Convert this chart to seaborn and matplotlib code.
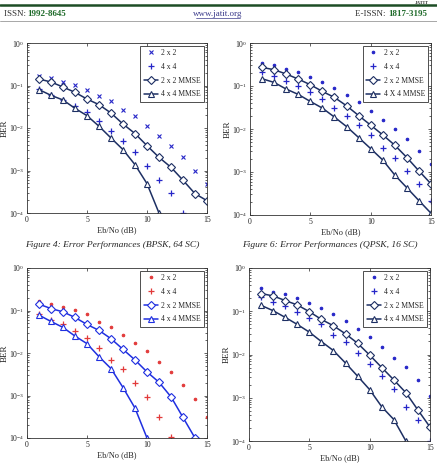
import numpy as np
import matplotlib
matplotlib.use("Agg")
import matplotlib.pyplot as plt
import matplotlib.ticker as mticker
import seaborn as sns

# ---- data (BER vs Eb/No) ----
ebno = list(range(1, 16))

# top-left panel (Figure 4: BPSK, 64 SC)
tl_2x2 = [0.17, 0.148, 0.123, 0.103, 0.080, 0.0566, 0.0432, 0.027, 0.0195, 0.0113,
          0.0066, 0.00384, 0.0021, 9.9e-4, 4.8e-4]
tl_4x4 = [0.083, 0.0587, 0.045, 0.0335, 0.0242, 0.0143, 0.00865, 0.00503, 0.00267,
          0.0013, 5.9e-4, 2.95e-4, 1.0e-4]
tl_2x2_mmse = [0.142, 0.121, 0.092, 0.069, 0.048, 0.0354, 0.0225, 0.0124, 0.0074,
               0.00384, 0.00204, 0.00119, 5.9e-4, 2.85e-4, 1.95e-4]
tl_4x4_mmse = [0.080, 0.0587, 0.0456, 0.029, 0.0195, 0.011, 0.00582, 0.0031, 0.00137,
               4.9e-4, 1.0e-4]

# top-right panel (Figure 6: QPSK, 16 SC)
tr_2x2 = [0.342, 0.307, 0.252, 0.207, 0.164, 0.126, 0.091, 0.0615, 0.0414, 0.0265,
          0.0164, 0.0101, 0.0058, 0.0031, 0.0015]
tr_4x4 = [0.215, 0.17, 0.132, 0.101, 0.0709, 0.0505, 0.030, 0.0206, 0.0125, 0.0073,
          0.0037, 0.00217, 0.00106, 5.2e-4, 2.1e-4]
tr_2x2_mmse = [0.271, 0.239, 0.19, 0.145, 0.107, 0.0748, 0.0542, 0.0347, 0.0206,
               0.0123, 0.0073, 0.0042, 0.00217, 0.00106, 5.3e-4]
tr_4x4_mmse = [0.1476, 0.121, 0.0848, 0.0637, 0.0437, 0.0306, 0.0189, 0.0114, 0.00634,
               0.0035, 0.0019, 8.5e-4, 4.3e-4, 2.16e-4, 1.1e-4]

# bottom-left panel
bl_2x2 = [0.169, 0.143, 0.124, 0.104, 0.0806, 0.0543, 0.040, 0.0264, 0.0175, 0.0109,
          0.00615, 0.00365, 0.00178, 8.35e-4, 3.05e-4]
bl_4x4 = [0.0806, 0.0593, 0.047, 0.0334, 0.0229, 0.0129, 0.007, 0.0041, 0.00198,
          9.3e-4, 3.05e-4, 1.04e-4]
bl_2x2_mmse = [0.141, 0.111, 0.093, 0.0685, 0.047, 0.034, 0.0217, 0.0122, 0.00686,
               0.00359, 0.00205, 9.3e-4, 3.05e-4, 1.0e-4]
bl_4x4_mmse = [0.0778, 0.0552, 0.040, 0.025, 0.0166, 0.0082, 0.0043, 0.00154,
               5.05e-4, 1.0e-4]

# bottom-right panel
br_2x2 = [0.336, 0.286, 0.248, 0.20, 0.158, 0.121, 0.0879, 0.0582, 0.0386, 0.0251,
          0.0152, 0.00844, 0.00512, 0.00255, 0.00112]
br_4x4 = [0.211, 0.167, 0.132, 0.096, 0.0696, 0.0505, 0.029, 0.0196, 0.0108, 0.0061,
          0.0031, 0.00163, 6.2e-4, 3.14e-4, 1.02e-4]
br_2x2_mmse = [0.257, 0.226, 0.177, 0.14, 0.0978, 0.0648, 0.0461, 0.030, 0.0182,
               0.0097, 0.005, 0.00259, 0.00131, 5.2e-4, 2.1e-4]
br_4x4_mmse = [0.137, 0.103, 0.0722, 0.0496, 0.0329, 0.0199, 0.0123, 0.00634,
               0.00316, 0.00154, 6.2e-4, 3.14e-4, 1.0e-4]

legend_labels = ["2 x 2", "4 x 4", "2 x 2 MMSE", "4 x 4 MMSE"]
legend_labels_tr = ["2 x 2", "4 x 4", "2 x 2 MMSE", "4 X 4 MMSE"]

sns.set_style("ticks")
plt.rcParams["font.family"] = ["Liberation Serif", "DejaVu Serif"]
plt.rcParams["mathtext.fontset"] = "stix"

W, H = 437, 470
fig = plt.figure(figsize=(W / 100, H / 100), dpi=100)
fig.patch.set_facecolor("white")


def px_axes(left, top, right, bottom):
    return fig.add_axes([left / W, 1 - bottom / H, (right - left) / W, (bottom - top) / H])


def draw_panel(ax, y22, y44, y22m, y44m, pt_color, line_color, m22, labels):
    ms22 = 3.2 if m22 == "x" else 3.6
    sns.lineplot(x=ebno[:len(y22)], y=y22, ax=ax, color=pt_color, linestyle="",
                 marker=m22, markersize=ms22, markeredgewidth=0.8,
                 markeredgecolor=pt_color, markerfacecolor=pt_color, label=labels[0])
    sns.lineplot(x=ebno[:len(y44)], y=y44, ax=ax, color=pt_color, linestyle="",
                 marker="+", markersize=4.5, markeredgewidth=0.9,
                 markeredgecolor=pt_color, label=labels[1])
    sns.lineplot(x=ebno[:len(y22m)], y=y22m, ax=ax, color=line_color, linewidth=1.1,
                 marker="D", markersize=3.6, markerfacecolor="white",
                 markeredgecolor=line_color, markeredgewidth=0.8, label=labels[2])
    sns.lineplot(x=ebno[:len(y44m)], y=y44m, ax=ax, color=line_color, linewidth=1.1,
                 marker="^", markersize=4.0, markerfacecolor="white",
                 markeredgecolor=line_color, markeredgewidth=0.8, label=labels[3])

    ax.set_yscale("log")
    ax.set_xlim(0, 15)
    ax.set_ylim(1e-4, 1e0)
    ax.set_xticks([0, 5, 10, 15])
    ax.set_yticks([1e-4, 1e-3, 1e-2, 1e-1, 1e0])
    ax.yaxis.set_major_formatter(mticker.LogFormatterSciNotation())
    ax.yaxis.set_minor_locator(mticker.LogLocator(base=10, subs=np.arange(2, 10) * 1.0))
    ax.yaxis.set_minor_formatter(mticker.NullFormatter())
    ax.tick_params(which="both", direction="in", top=True, right=True,
                   labelsize=5.6, width=0.5, pad=2)
    ax.tick_params(which="major", length=2.5)
    ax.tick_params(which="minor", length=1.3)
    for s in ax.spines.values():
        s.set_linewidth(0.6)
        s.set_color("#333333")
    ax.set_xlabel("Eb/No (dB)", fontsize=6, labelpad=2)
    ax.set_ylabel("BER", fontsize=6.5)
    ax.yaxis.set_label_coords(-0.1, 0.5)
    leg = ax.legend(loc="upper right", fontsize=5.5, frameon=True, fancybox=False,
                    edgecolor="#222222", borderpad=0.45, handlelength=1.9,
                    handletextpad=0.4, labelspacing=0.75, borderaxespad=0.35)
    leg.get_frame().set_linewidth(0.7)
    ax.grid(False)


navy = "#1d2f63"
blue_pts = "#2626c8"

ax1 = px_axes(27, 43, 207, 213)
draw_panel(ax1, tl_2x2, tl_4x4, tl_2x2_mmse, tl_4x4_mmse, blue_pts, navy, "x", legend_labels)
ax2 = px_axes(250, 43, 431, 215)
draw_panel(ax2, tr_2x2, tr_4x4, tr_2x2_mmse, tr_4x4_mmse, blue_pts, navy, ".", legend_labels_tr)
ax3 = px_axes(27, 268, 207, 438)
draw_panel(ax3, bl_2x2, bl_4x4, bl_2x2_mmse, bl_4x4_mmse, "#e23a3a", "#1f2fe0", ".", legend_labels)
ax4 = px_axes(249, 268, 430, 441)
draw_panel(ax4, br_2x2, br_4x4, br_2x2_mmse, br_4x4_mmse, blue_pts, navy, ".", legend_labels)

# ---- journal page header ----
green = "#1f6b2a"
fig.add_artist(plt.Line2D([0, 1], [1 - 5 / H, 1 - 5 / H], color="#1d4d25", linewidth=1.8))
fig.add_artist(plt.Line2D([0, 1], [1 - 21 / H, 1 - 21 / H], color="#999999", linewidth=0.6))
fig.text(1 - 8 / W, 1 - 0.5 / H, "JATIT", ha="right", va="top", fontsize=3.5,
         fontweight="bold", color="#333333")
fig.text(4 / W, 1 - 14 / H, "ISSN: ", ha="left", va="center", fontsize=6.5, color="#333333")
fig.text(27 / W, 1 - 14 / H, "1992-8645", ha="left", va="center", fontsize=6.5,
         fontweight="bold", color=green)
fig.text(218 / W, 1 - 14 / H, "www.jatit.org", ha="center", va="center", fontsize=6.5,
         color="#3a3a8a")
fig.add_artist(plt.Line2D([196 / W, 240 / W], [1 - 18 / H, 1 - 18 / H], color="#3a3a8a",
                          linewidth=0.5))
fig.text(388 / W, 1 - 14 / H, "E-ISSN: ", ha="right", va="center", fontsize=6.5, color="#333333")
fig.text(388 / W, 1 - 14 / H, "1817-3195", ha="left", va="center", fontsize=6.5,
         fontweight="bold", color=green)

# ---- captions ----
fig.text(112 / W, 1 - 245 / H, "Figure 4: Error Performances (BPSK, 64 SC)", ha="center",
         va="center", fontsize=6.8, style="italic")
fig.text(330 / W, 1 - 245 / H, "Figure 6: Error Performances (QPSK, 16 SC)", ha="center",
         va="center", fontsize=6.8, style="italic")

fig.savefig("out.png", dpi=100)
